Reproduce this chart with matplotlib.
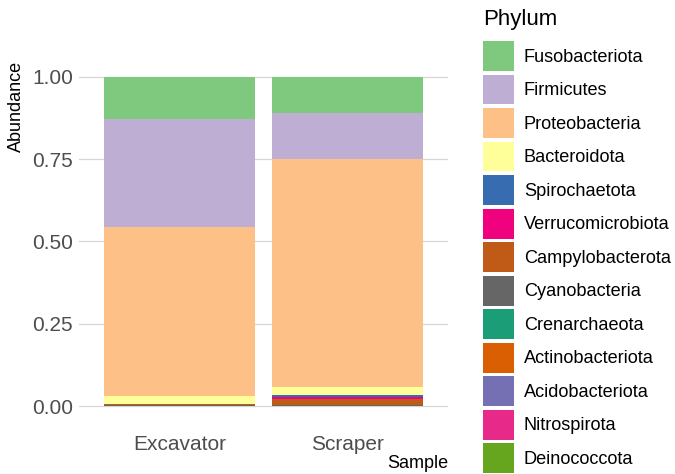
import matplotlib
matplotlib.use("Agg")
import matplotlib.pyplot as plt
from matplotlib.patches import Patch
import numpy as np

plt.rcParams['font.family'] = ['Liberation Sans', 'DejaVu Sans']

# relative abundance per phylum (stack order: first level on top)
phyla = ["Fusobacteriota", "Firmicutes", "Proteobacteria", "Bacteroidota",
         "Spirochaetota", "Verrucomicrobiota", "Campylobacterota", "Cyanobacteria",
         "Crenarchaeota", "Actinobacteriota", "Acidobacteriota", "Nitrospirota",
         "Deinococcota"]
samples = ["Excavator", "Scraper"]
excavator = [0.128, 0.328, 0.514, 0.024, 0.0004, 0.0003, 0.0008, 0.0035,
             0.0002, 0.0003, 0.0002, 0.0001, 0.0002]
scraper = [0.109, 0.140, 0.691, 0.025, 0.007, 0.005, 0.020, 0.0006,
           0.0003, 0.0004, 0.0003, 0.0002, 0.0002]
colors = ["#7FC97F", "#BEAED4", "#FDC086", "#FFFF99", "#386CB0", "#F0027F",
          "#BF5B17", "#666666", "#1B9E77", "#D95F02", "#7570B3", "#E7298A",
          "#66A61E"]

fig = plt.figure(figsize=(6.75, 4.74), dpi=100)
ax = fig.add_axes([0.1166, 0.1087, 0.547, 0.7637])

vals = np.array([excavator, scraper]).T   # rows = phyla
x = np.arange(1, len(samples) + 1)
bottom = np.zeros(len(samples))
# stack from last level up so the first phylum ends up at the top
for i in range(len(phyla) - 1, -1, -1):
    ax.bar(x, vals[i], bottom=bottom, width=0.9, color=colors[i],
           linewidth=0, zorder=2)
    bottom += vals[i]

ax.set_xlim(0.4, 2.6)
ax.set_ylim(-0.05, 1.05)
ax.set_xticks(x)
ax.set_xticklabels(samples)
ax.set_yticks([0, 0.25, 0.5, 0.75, 1.0])
ax.set_yticklabels(["0.00", "0.25", "0.50", "0.75", "1.00"])
ax.tick_params(length=0, labelsize=15, colors="#4D4D4D", pad=4)
ax.tick_params(axis='x', pad=9)
ax.yaxis.grid(True, color="#D6D6D6", linewidth=0.9, zorder=0)
ax.set_axisbelow(True)
for s in ax.spines.values():
    s.set_visible(False)

ax.set_ylabel("Abundance", loc="top", fontsize=13, labelpad=5)
ax.set_xlabel("Sample", loc="right", fontsize=13, labelpad=1)

# legend
fig.text(483 / 675, 1 - 20 / 474, "Phylum", fontsize=16, ha="left", va="center")
handles = [Patch(facecolor=c, edgecolor="none") for c in colors]
leg = fig.legend(handles, phyla, loc="upper left",
                 bbox_to_anchor=(483 / 675, 1 - 41 / 474), frameon=False,
                 fontsize=13.1, handlelength=1.7, handleheight=2.15,
                 labelspacing=0.2, handletextpad=0.55, borderpad=0,
                 borderaxespad=0)

fig.savefig("out.png", dpi=100)
